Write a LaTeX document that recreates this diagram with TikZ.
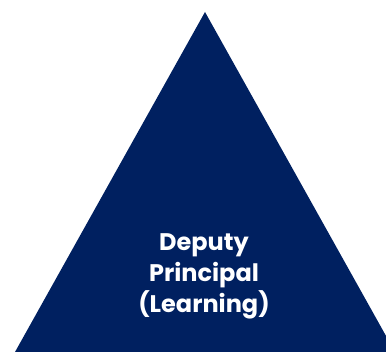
\documentclass[tikz,border=0pt]{standalone}
\usepackage{fontspec}
\setmainfont{Poppins}
\definecolor{navy}{HTML}{002060}
\tikzset{rolelabel/.style={text=white, font=\bfseries\fontsize{24}{31}\selectfont, align=center}}
\begin{document}
\begin{tikzpicture}[x=1pt, y=-1pt]
			\useasboundingbox (0,0) rectangle (386,352);
			\clip (0,0) rectangle (386,352);
			\fill[navy] (205,12) -- (15,352) -- (395,352) -- cycle;
			
			\node[rolelabel] (role) at (204,276) {Deputy\\Principal\\(Learning)};
		\end{tikzpicture}
\end{document}
